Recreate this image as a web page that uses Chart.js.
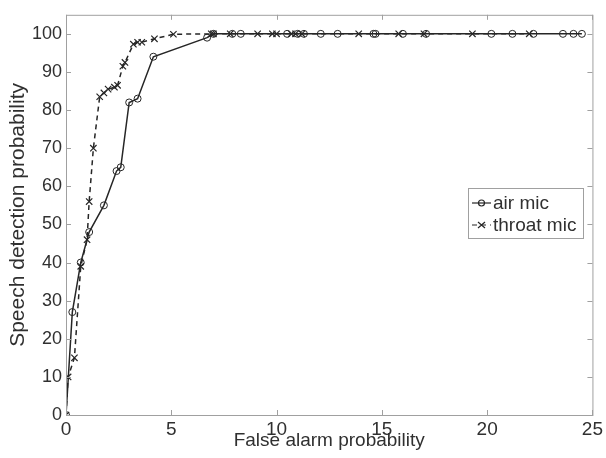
<!DOCTYPE html>
<html>
<head>
<meta charset="utf-8">
<script src="https://cdn.jsdelivr.net/npm/chart.js@4.4.1/dist/chart.umd.min.js"></script>
<style>
  html, body { margin: 0; padding: 0; background: #fff; }
  #wrap { width: 606px; height: 458px; }
</style>
</head>
<body>
<div id="wrap"><canvas id="roc"></canvas></div>
<script>
// air mic (circles, solid)
var airFa = [0, 0.3, 0.7, 1.1, 1.8, 2.4, 2.6, 3.0, 3.4, 4.15, 6.7, 7.0, 7.9, 8.3, 10.5, 11.0, 11.3, 12.1, 12.9, 14.6, 14.7, 16.0, 17.1, 20.2, 21.2, 22.2, 23.6, 24.1, 24.5];
var airPd = [0, 27, 40, 48, 55, 64, 65, 82, 83, 94, 99, 100, 100, 100, 100, 100, 100, 100, 100, 100, 100, 100, 100, 100, 100, 100, 100, 100, 100];

// throat mic (crosses, dashed)
var throatFa = [0, 0.1, 0.4, 0.7, 1.0, 1.1, 1.3, 1.6, 1.8, 2.0, 2.3, 2.45, 2.7, 2.8, 3.2, 3.4, 3.6, 4.2, 5.1, 6.9, 7.0, 7.8, 9.1, 9.8, 10.0, 10.7, 10.9, 11.2, 13.9, 15.8, 17.0, 19.3, 22.0];
var throatPd = [0, 10, 15, 39, 46, 56, 70, 83.5, 84.5, 85.5, 86, 86.5, 91.5, 92.5, 97.3, 97.8, 97.8, 98.7, 99.9, 100, 100, 100, 100, 100, 100, 100, 100, 100, 100, 100, 100, 100, 100];

var xTicks = [0, 5, 10, 15, 20, 25];
var yTicks = [0, 10, 20, 30, 40, 50, 60, 70, 80, 90, 100];

function pts(xs, ys) {
  return xs.map(function (x, i) { return { x: x, y: ys[i] }; });
}

var axisGray = '#a0a0a0';
var lineCol = '#262626';
var textCol = '#303030';

// box around plot + inward ticks on all four sides
var boxTicks = {
  id: 'boxTicks',
  afterDatasetsDraw(chart) {
    const { ctx, chartArea: { top, bottom, left, right } } = chart;
    const xs = chart.scales.x, ys = chart.scales.y;
    const len = 5;
    ctx.save();
    ctx.strokeStyle = axisGray;
    ctx.lineWidth = 1;
    ctx.strokeRect(left + 0.5, top + 0.5, right - left, bottom - top);
    ctx.beginPath();
    xTicks.forEach(function (v) {
      const px = Math.round(xs.getPixelForValue(v)) + 0.5;
      ctx.moveTo(px, bottom); ctx.lineTo(px, bottom - len);
      ctx.moveTo(px, top); ctx.lineTo(px, top + len);
    });
    yTicks.forEach(function (v) {
      const py = Math.round(ys.getPixelForValue(v)) + 0.5;
      ctx.moveTo(left, py); ctx.lineTo(left + len, py);
      ctx.moveTo(right, py); ctx.lineTo(right - len, py);
    });
    ctx.stroke();
    ctx.restore();
  }
};

// legend box inside the plot, right side
var insideLegend = {
  id: 'insideLegend',
  afterDraw(chart) {
    const ctx = chart.ctx;
    const bx = 468, by = 188, bw = 115, bh = 50;
    ctx.save();
    ctx.fillStyle = '#fff';
    ctx.fillRect(bx, by, bw, bh);
    ctx.strokeStyle = axisGray;
    ctx.lineWidth = 1;
    ctx.strokeRect(bx + 0.5, by + 0.5, bw, bh);

    chart.data.datasets.forEach(function (ds, i) {
      const cy = by + 15 + i * 22;
      ctx.strokeStyle = lineCol;
      ctx.lineWidth = 1.2;
      ctx.setLineDash(ds.borderDash || []);
      ctx.beginPath();
      ctx.moveTo(bx + 4, cy); ctx.lineTo(bx + 23, cy);
      ctx.stroke();
      ctx.setLineDash([]);
      ctx.beginPath();
      if (ds.pointStyle === 'circle') {
        ctx.arc(bx + 13.5, cy, 3, 0, Math.PI * 2);
      } else {
        ctx.moveTo(bx + 10, cy - 3); ctx.lineTo(bx + 17, cy + 3);
        ctx.moveTo(bx + 10, cy + 3); ctx.lineTo(bx + 17, cy - 3);
      }
      ctx.stroke();
      ctx.fillStyle = textCol;
      ctx.font = '19px "Liberation Sans", Arial, sans-serif';
      ctx.textBaseline = 'middle';
      ctx.textAlign = 'left';
      ctx.fillText(ds.label, bx + 25, cy + 1);
    });
    ctx.restore();
  }
};

var config = {
  type: 'scatter',
  data: {
    datasets: [{
      label: 'air mic',
      data: pts(airFa, airPd),
      showLine: true,
      borderColor: lineCol,
      borderWidth: 1.5,
      pointStyle: 'circle',
      pointRadius: 3.5,
      pointBorderWidth: 1,
      pointBorderColor: lineCol,
      pointBackgroundColor: 'rgba(255,255,255,0)'
    }, {
      label: 'throat mic',
      data: pts(throatFa, throatPd),
      showLine: true,
      borderColor: lineCol,
      borderWidth: 1.5,
      borderDash: [5, 4],
      pointStyle: 'crossRot',
      pointRadius: 4.5,
      pointBorderWidth: 1.2,
      pointBorderColor: lineCol
    }]
  },
  options: {
    responsive: true,
    maintainAspectRatio: false,
    animation: false,
    layout: { padding: { top: 12, right: 12, left: 0, bottom: 0 } },
    plugins: {
      legend: { display: false },
      tooltip: { enabled: false }
    },
    scales: {
      x: {
        type: 'linear',
        min: 0, max: 25,
        afterFit(scale) { scale.height = 43; },
        afterBuildTicks(scale) { scale.ticks = xTicks.map(function (v) { return { value: v }; }); },
        grid: { display: false, drawTicks: false },
        border: { display: false },
        ticks: {
          padding: 3,
          color: textCol,
          font: { family: '"Liberation Sans", Arial, sans-serif', size: 19 },
          maxRotation: 0
        },
        title: {
          display: true,
          text: 'False alarm probability',
          color: textCol,
          font: { family: '"Liberation Sans", Arial, sans-serif', size: 19 },
          padding: { top: 0, bottom: 6 }
        }
      },
      y: {
        type: 'linear',
        min: 0, max: 105,
        afterFit(scale) { scale.width = 66; },
        afterBuildTicks(scale) { scale.ticks = yTicks.map(function (v) { return { value: v }; }); },
        grid: { display: false, drawTicks: false },
        border: { display: false },
        ticks: {
          padding: 4,
          color: textCol,
          font: { family: '"Liberation Sans", Arial, sans-serif', size: 18 }
        },
        title: {
          display: true,
          text: 'Speech detection probability',
          color: textCol,
          font: { family: '"Liberation Sans", Arial, sans-serif', size: 21 },
          padding: { top: 6, bottom: 0 }
        }
      }
    }
  },
  plugins: [boxTicks, insideLegend]
};

var roc = new Chart(document.getElementById('roc'), config);
</script>
</body>
</html>
